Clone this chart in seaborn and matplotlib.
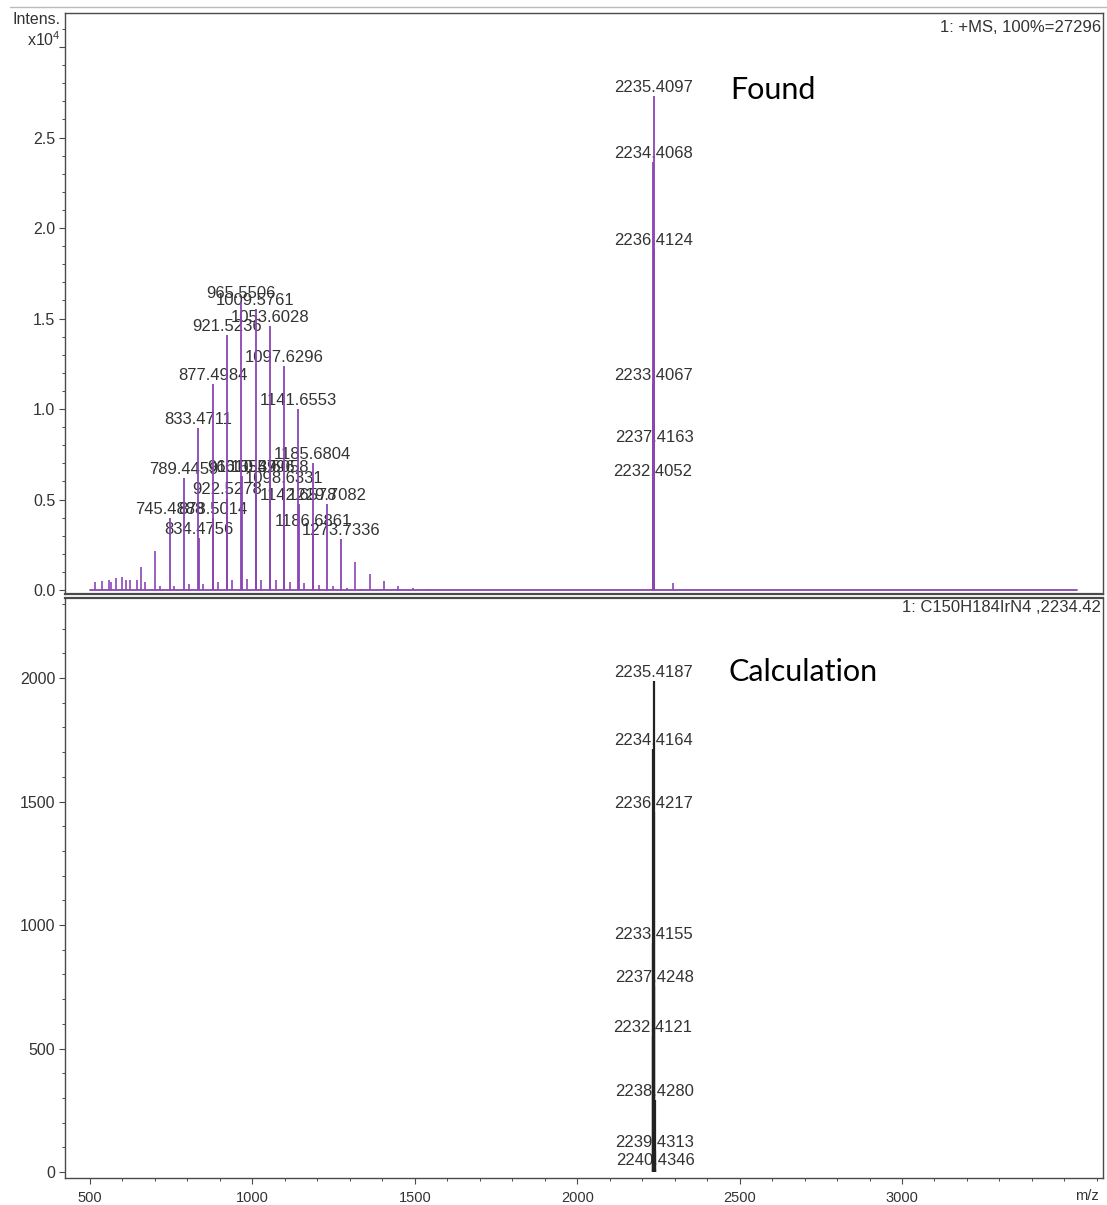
import numpy as np
import pandas as pd
import matplotlib
matplotlib.use("Agg")
import matplotlib.pyplot as plt
import seaborn as sns
from matplotlib.ticker import MultipleLocator, FuncFormatter
from matplotlib.lines import Line2D

# ---------------- data ----------------
# Found spectrum (intensity in units of 1e4)
found_labeled_mz = [745.4888, 789.4459, 833.4711, 877.4984, 921.5236, 965.5506,
                    1009.5761, 1053.6028, 1097.6296, 1141.6553, 1185.6804,
                    1229.7082, 1273.7336,
                    834.4756, 878.5014, 922.5278, 966.5539, 1010.5796,
                    1054.6058, 1098.6331, 1142.6578, 1186.6861,
                    2235.4097, 2234.4068, 2236.4124, 2233.4067, 2237.4163, 2232.4052]
found_labeled_int = [0.40, 0.62, 0.895, 1.14, 1.41, 1.59,
                     1.55, 1.46, 1.24, 1.00, 0.70,
                     0.475, 0.28,
                     0.29, 0.40, 0.51, 0.63, 0.63,
                     0.63, 0.57, 0.475, 0.33,
                     2.7296, 2.365, 1.884, 1.138, 0.796, 0.608]
found_labels = ["745.4888", "789.4459", "833.4711", "877.4984", "921.5236", "965.5506",
                "1009.5761", "1053.6028", "1097.6296", "1141.6553", "1185.6804",
                "1229.7082", "1273.7336",
                "834.4756", "878.5014", "922.5278", "966.5539", "1010.5796",
                "1054.6058", "1098.6331", "1142.6578", "1186.6861",
                "2235.4097", "2234.4068", "2236.4124", "2233.4067", "2237.4163", "2232.4052"]

found_other_mz = [515, 536, 558, 565, 580, 600, 610, 623, 646, 657, 669, 701,
                  715.5, 760, 804, 849, 894, 938, 982, 1025, 1073, 1116, 1159,
                  1204, 1247, 1292, 1336, 1317, 1361, 1405, 1449, 1493, 1537, 2296]
found_other_int = [0.042, 0.048, 0.057, 0.042, 0.064, 0.07, 0.055, 0.055, 0.055,
                   0.125, 0.042, 0.217,
                   0.024, 0.02, 0.033, 0.033, 0.046, 0.055, 0.061, 0.055, 0.055,
                   0.046, 0.037, 0.028, 0.02, 0.009, 0.006, 0.153, 0.088, 0.048,
                   0.024, 0.009, 0.004, 0.037]

baseline_mz = [500, 3540]
baseline_int = [0.0, 0.0]

# Calculated isotope pattern
calc_mz = [2235.4187, 2234.4164, 2236.4217, 2233.4155, 2237.4248, 2232.4121,
           2238.4280, 2239.4313, 2240.4346]
calc_int = [1988, 1713, 1457, 927, 753, 551, 291, 85, 12]
calc_labels = ["2235.4187", "2234.4164", "2236.4217", "2233.4155", "2237.4248",
               "2232.4121", "2238.4280", "2239.4313", "2240.4346"]

# ---------------- style ----------------
sns.set_theme(style="ticks")
plt.rcParams['font.family'] = ['Liberation Sans', 'DejaVu Sans']
plt.rcParams['mathtext.fontset'] = 'custom'
plt.rcParams['mathtext.rm'] = 'Liberation Sans'
plt.rcParams['mathtext.default'] = 'regular'

TXT = '#333333'
SP = '#4a4a4a'
PURPLE = '#8a45b5'

W, H = 1107, 1205
fig = plt.figure(figsize=(W / 100, H / 100), dpi=100)
fig.patch.set_facecolor('white')


def rect(l, t, r, b):
    return [l / W, 1 - b / H, (r - l) / W, (b - t) / H]


ax1 = fig.add_axes(rect(65, 13, 1103, 594))
ax2 = fig.add_axes(rect(65, 598, 1103, 1178))

xlim = (423.0, 3618.8)

# ---- top: found ----
sns.lineplot(x=baseline_mz, y=baseline_int, ax=ax1, color=PURPLE, lw=1.3, zorder=3)
ax1.vlines(found_other_mz, 0, found_other_int, color=PURPLE, lw=1.2, zorder=3)
ax1.vlines(found_labeled_mz, 0, found_labeled_int, color=PURPLE, lw=1.3, zorder=3)
for mz, h, lab in zip(found_labeled_mz, found_labeled_int, found_labels):
    ax1.annotate(lab, xy=(mz, h), xytext=(0, 4), textcoords='offset pixels',
                 ha='center', va='baseline', fontsize=12, color=TXT, zorder=1)

ax1.set_xlim(*xlim)
ax1.set_ylim(-0.022, 3.188)
ax1.yaxis.set_major_locator(MultipleLocator(0.5))
ax1.yaxis.set_minor_locator(MultipleLocator(0.1))
ax1.yaxis.set_major_formatter(FuncFormatter(lambda v, p: '' if v > 2.9 else f'{v:.1f}'))
ax1.tick_params(axis='x', which='both', bottom=False, labelbottom=False)

# ---- bottom: calculation ----
ax2.vlines(calc_mz, 0, calc_int, color='#222222', lw=1.6, zorder=3)
for mz, h, lab in zip(calc_mz, calc_int, calc_labels):
    ax2.annotate(lab, xy=(mz, h), xytext=(0, 4), textcoords='offset pixels',
                 ha='center', va='baseline', fontsize=12, color=TXT, zorder=1)

ax2.set_xlim(*xlim)
ax2.set_ylim(-24.3, 2324)
ax2.yaxis.set_major_locator(MultipleLocator(500))
ax2.yaxis.set_minor_locator(MultipleLocator(100))
ax2.set_xticks([500, 1000, 1500, 2000, 2500, 3000])
ax2.xaxis.set_minor_locator(MultipleLocator(100))

for ax in (ax1, ax2):
    ax.set_xlabel('')
    ax.set_ylabel('')
    ax.set_facecolor('white')
    for s in ax.spines.values():
        s.set_visible(True)
        s.set_color(SP)
        s.set_linewidth(1.0)
    ax.tick_params(axis='y', which='major', direction='out', length=4, width=0.8,
                   color=SP, labelsize=11.5, labelcolor=TXT, pad=3)
    ax.tick_params(axis='y', which='minor', direction='out', length=2.5, width=0.7,
                   color=SP)
ax2.tick_params(axis='x', which='major', direction='out', length=4, width=0.8,
                color=SP, labelsize=10.5, labelcolor=TXT, pad=5)
ax2.tick_params(axis='x', which='minor', direction='out', length=2.5, width=0.7,
                color=SP)
ax1.spines['bottom'].set_linewidth(1.6)
ax2.spines['top'].set_linewidth(1.6)

# headers
ax1.annotate('1: +MS, 100%=27296', xy=(1, 1), xycoords='axes fraction',
             xytext=(-2, -14), textcoords='offset pixels', ha='right', va='center',
             fontsize=12, color=TXT)
ax2.annotate('1: C150H184IrN4 ,2234.42', xy=(1, 1), xycoords='axes fraction',
             xytext=(-2, -9), textcoords='offset pixels', ha='right', va='center',
             fontsize=12, color=TXT)
ax2.annotate('m/z', xy=(1, 0), xycoords='axes fraction',
             xytext=(-4, -18), textcoords='offset pixels', ha='right', va='center',
             fontsize=10.5, color=TXT)

fig.text(61 / W, 1 - 19 / H, 'Intens.', ha='right', va='center', fontsize=11.5, color=TXT)
fig.text(61 / W, 1 - 40 / H, 'x10$^4$', ha='right', va='center', fontsize=11.5, color=TXT)

fig.text(730 / W, 1 - 90 / H, 'Found', ha='left', va='center',
         fontfamily=['Lato', 'DejaVu Sans'], fontsize=22, color='black')
fig.text(729 / W, 1 - 672 / H, 'Calculation', ha='left', va='center',
         fontfamily=['Lato', 'DejaVu Sans'], fontsize=22, color='black')

fig.add_artist(Line2D([10 / W, 1.0], [1 - 7 / H, 1 - 7 / H], color='#bbbbbb', lw=1.0))

fig.savefig('out.png', dpi=100, facecolor='white')
